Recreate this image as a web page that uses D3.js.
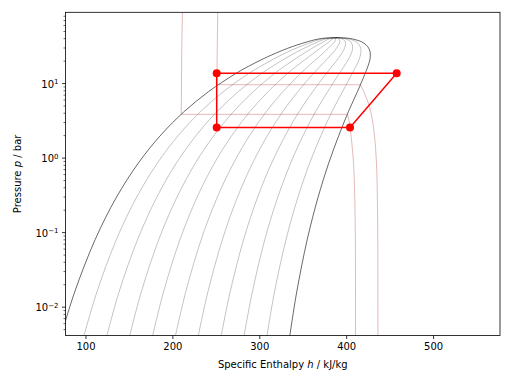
<!DOCTYPE html>
<html>
<head>
<meta charset="utf-8">
<script src="https://cdn.jsdelivr.net/npm/d3@7"></script>
<style>
  body { margin: 0; background: #fff; }
  svg { display: block; font-family: "DejaVu Sans", sans-serif; }
</style>
</head>
<body>
<svg id="chart" width="512" height="384"></svg>
<script>
'use strict';

// saturation dome (R134a-like), pressure in bar, enthalpy in kJ/kg
var satP    = [0.00391, 0.0153, 0.0798, 0.2945, 0.8438, 2.006, 4.146, 7.702, 13.181, 16.818, 21.162, 26.324, 29.26, 32.435, 35.9, 38.1, 39.72, 40.59];
var satHLiq = [71.5, 87.2, 111.2, 135.7, 160.8, 186.7, 213.6, 241.8, 271.8, 287.8, 304.6, 322.8, 332.7, 343.4, 355.8, 364.0, 372.5, 389.6];
var satHVap = [334.9, 342.9, 355.2, 367.7, 379.9, 391.7, 402.6, 413.0, 421.5, 425.0, 427.5, 427.5, 426.0, 423.0, 417.5, 411.0, 403.5, 389.6];

// lines of constant quality 0.1 .. 0.9, enthalpy at each satP level
var qualities = [0.1, 0.2, 0.3, 0.4, 0.5, 0.6, 0.7, 0.8, 0.9];
var qualityH = [
  [97.8, 112.8, 135.6, 158.9, 182.7, 207.2, 232.5, 258.9, 286.8, 301.5, 316.9, 333.3, 342.0, 351.4, 362.0, 368.7, 375.6, 389.6],
  [124.2, 138.3, 160.0, 182.1, 204.6, 227.7, 251.4, 276.0, 301.7, 315.2, 329.2, 343.7, 351.4, 359.3, 368.1, 373.4, 378.7, 389.6],
  [150.5, 163.9, 184.4, 205.3, 226.5, 248.2, 270.3, 293.2, 316.7, 329.0, 341.5, 354.2, 360.7, 367.3, 374.3, 378.1, 381.8, 389.6],
  [176.9, 189.5, 208.8, 228.5, 248.4, 268.7, 289.2, 310.3, 331.7, 342.7, 353.8, 364.7, 370.0, 375.2, 380.5, 382.8, 384.9, 389.6],
  [203.2, 215.1, 233.2, 251.7, 270.4, 289.2, 308.1, 327.4, 346.7, 356.4, 366.1, 375.2, 379.4, 383.2, 386.7, 387.5, 388.0, 389.6],
  [229.5, 240.6, 257.6, 274.9, 292.3, 309.7, 327.0, 344.5, 361.6, 370.1, 378.3, 385.6, 388.7, 391.2, 392.8, 392.2, 391.1, 389.6],
  [255.9, 266.2, 282.0, 298.1, 314.2, 330.2, 345.9, 361.6, 376.6, 383.8, 390.6, 396.1, 398.0, 399.1, 399.0, 396.9, 394.2, 389.6],
  [282.2, 291.8, 306.4, 321.3, 336.1, 350.7, 364.8, 378.8, 391.6, 397.6, 402.9, 406.6, 407.3, 407.1, 405.2, 401.6, 397.3, 389.6],
  [308.6, 317.3, 330.8, 344.5, 358.0, 371.2, 383.7, 395.9, 406.5, 411.3, 415.2, 417.0, 416.7, 415.0, 411.3, 406.3, 400.4, 389.6]
];

// two isotherms (liquid branch, two-phase plateau, vapour branch)
var iso1P = [89, 30, 3.8, 3.8, 3.0, 2.0, 1.0, 0.5, 0.1, 0.004];
var iso1H = [211.5, 210.8, 210.2, 401.5, 403.5, 405.5, 408.0, 409.3, 410.5, 410.7];
var iso2P = [89, 30, 9.5, 9.5, 8.0, 6.0, 4.0, 2.0, 1.0, 0.5, 0.1, 0.004];
var iso2H = [252.2, 251.6, 251.2, 416.2, 419.5, 424.0, 428.5, 432.5, 434.5, 435.5, 436.3, 436.5];

// refrigeration cycle states
var cycleH = [251.0, 251.0, 404.4, 458.1];
var cycleP = [13.54, 2.535, 2.535, 13.54];

var xTicks = [100, 200, 300, 400, 500];
var yTicks = [0.01, 0.1, 1, 10];
var yTickExp = ['\u22122', '\u22121', '0', '1'];

var svg = d3.select('#chart');
var L = 65.5, R = 500, T = 12.3, B = 335.5;

var x = d3.scaleLinear().domain([77, 577]).range([L, R]);
var y = d3.scaleLog().domain([0.0041, 89]).range([B, T]);

svg.append('clipPath').attr('id', 'plotclip')
  .append('rect').attr('x', L).attr('y', T).attr('width', R - L).attr('height', B - T);

var plot = svg.append('g').attr('clip-path', 'url(#plotclip)');

var smooth = d3.line().x(d => x(d[0])).y(d => y(d[1])).curve(d3.curveCatmullRom.alpha(0.5));
var straight = d3.line().x(d => x(d[0])).y(d => y(d[1]));

//
// quality lines
//
qualityH.forEach(function(hs) {
  plot.append('path')
    .attr('d', smooth(hs.map((h, i) => [h, satP[i]])))
    .attr('fill', 'none')
    .attr('stroke', '#000')
    .attr('stroke-opacity', 0.4)
    .attr('stroke-width', 0.6);
});

//
// saturation dome
//
var dome = satHLiq.map((h, i) => [h, satP[i]]);
for (var i = satHVap.length - 2; i >= 0; i--) dome.push([satHVap[i], satP[i]]);
plot.append('path')
  .attr('d', smooth(dome))
  .attr('fill', 'none')
  .attr('stroke', '#000')
  .attr('stroke-opacity', 0.85)
  .attr('stroke-width', 0.7);

//
// isotherms
//
[[iso1H, iso1P], [iso2H, iso2P]].forEach(function(iso) {
  var pts = iso[0].map((h, i) => [h, iso[1][i]]);
  var k = pts.findIndex((d, i) => i > 0 && d[1] === pts[i - 1][1]);
  var g = plot.append('g')
    .attr('fill', 'none')
    .attr('stroke', '#b33a3a')
    .attr('stroke-opacity', 0.45)
    .attr('stroke-width', 0.8);
  g.append('path').attr('d', straight(pts.slice(0, k + 1)));
  g.append('path').attr('d', smooth(pts.slice(k)));
});

//
// cycle
//
var cyc = cycleH.map((h, i) => [h, cycleP[i]]);
plot.append('path')
  .attr('d', straight(cyc.concat([cyc[0]])))
  .attr('fill', 'none')
  .attr('stroke', '#ff0000')
  .attr('stroke-width', 1.5);
plot.selectAll('.state').data(cyc).enter()
  .append('circle')
  .attr('class', 'state')
  .attr('cx', d => x(d[0]))
  .attr('cy', d => y(d[1]))
  .attr('r', 4)
  .attr('fill', '#ff0000');

//
// axes
//
var xAxis = svg.append('g')
  .attr('transform', 'translate(0,' + B + ')')
  .call(d3.axisBottom(x).tickValues(xTicks).tickSize(3.5).tickPadding(3.5).tickSizeOuter(0));
xAxis.select('.domain').remove();

var yMinor = [];
[-3, -2, -1, 0, 1].forEach(function(e) {
  for (var k = 2; k <= 9; k++) {
    var v = k * Math.pow(10, e);
    if (v >= 0.0041 && v <= 89) yMinor.push(v);
  }
});
var yMin = svg.append('g')
  .attr('transform', 'translate(' + L + ',0)')
  .call(d3.axisLeft(y).tickValues(yMinor).tickSize(2).tickFormat(''));
yMin.select('.domain').remove();
yMin.selectAll('line').attr('stroke-width', 0.6);

var yAxis = svg.append('g')
  .attr('transform', 'translate(' + L + ',0)')
  .call(d3.axisLeft(y).tickValues(yTicks).tickSize(3.5).tickPadding(3.5).tickFormat(''));
yAxis.select('.domain').remove();
yAxis.selectAll('.tick text').each(function(d, i) {
  var t = d3.select(this);
  t.append('tspan').text('10');
  t.append('tspan').attr('dy', '-0.45em').attr('font-size', '7px').text(yTickExp[i]);
});

svg.selectAll('.tick text')
  .attr('font-family', '"DejaVu Sans", sans-serif')
  .attr('font-size', '10px')
  .attr('fill', '#000');
svg.selectAll('.tick line').attr('stroke', '#000');
xAxis.selectAll('.tick line').attr('stroke-width', 0.8);
yAxis.selectAll('.tick line').attr('stroke-width', 0.8);
yAxis.selectAll('.tick text').attr('dy', '0.4em');

// frame
svg.append('rect')
  .attr('x', L).attr('y', T)
  .attr('width', R - L).attr('height', B - T)
  .attr('fill', 'none')
  .attr('stroke', '#000')
  .attr('stroke-width', 0.8);

//
// labels
//
var xl = svg.append('text')
  .attr('x', (L + R) / 2).attr('y', 368)
  .attr('text-anchor', 'middle')
  .attr('font-size', '10px');
xl.append('tspan').text('Specific Enthalpy ');
xl.append('tspan').attr('font-style', 'italic').text('h');
xl.append('tspan').text(' / kJ/kg');

var yl = svg.append('text')
  .attr('transform', 'translate(21,' + ((T + B) / 2) + ') rotate(-90)')
  .attr('text-anchor', 'middle')
  .attr('font-size', '10px');
yl.append('tspan').text('Pressure ');
yl.append('tspan').attr('font-style', 'italic').text('p');
yl.append('tspan').text(' / bar');
</script>
</body>
</html>
